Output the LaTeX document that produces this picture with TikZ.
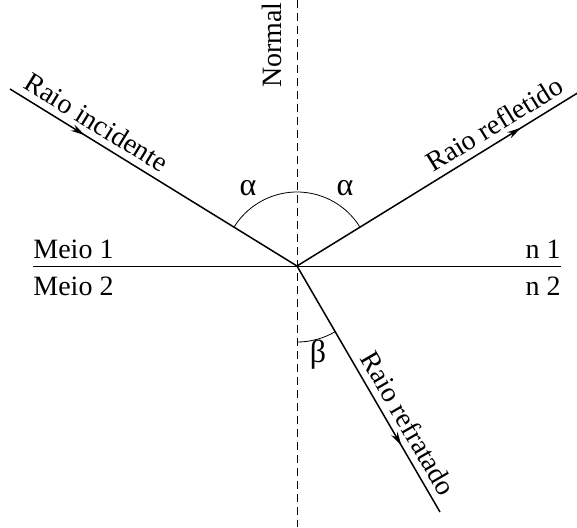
\documentclass[tikz,border=0pt]{standalone}
\usepackage{fontspec}
\setmainfont{Liberation Serif}
\usetikzlibrary{arrows.meta, decorations.markings}

\begin{document}
\begin{tikzpicture}[x=0.5pt, y=0.5pt, font=\fontsize{14}{17}\selectfont,
  ray/.style={line width=0.75pt},
  midarrow/.style={postaction={decorate}, decoration={markings,
    mark=at position #1 with {\arrow{Stealth[length=7pt, width=3.6pt]}}}},
  angarc/.style={line width=0.4pt},
  anglbl/.style={font=\fontsize{16}{18}\selectfont}]
\useasboundingbox (-297,-261) rectangle (280,266);

\coordinate (O) at (0,0);
\coordinate (top) at (0,266);
\coordinate (bot) at (0,-261);
\coordinate (left) at (-264,0);
\coordinate (right) at (264,0);
\coordinate (inc) at (-287,177);
\coordinate (refl) at (287,177);
\coordinate (refr) at (143,-246);

% normal and interface
\draw[dash pattern=on 4pt off 2.5pt, line width=0.5pt] (top) -- (bot);
\draw[line width=0.5pt] (left) -- (right);
\node[rotate=90] (normal) at (-25,221) {Normal};

% rays
\draw[ray, midarrow=0.26] (inc) -- node[pos=0.27, sloped, above] (lblinc) {Raio incidente} (O);
\draw[ray, midarrow=0.78] (O) -- node[pos=0.72, sloped, above] (lblrefl) {Raio refletido} (refl);
\draw[ray, midarrow=0.73] (O) -- node[pos=0.675, sloped, above] (lblrefr) {Raio refratado} (refr);

% angles
\draw[angarc] (O) ++(31.66:74) arc[start angle=31.66, end angle=148.34, radius=74];
\draw[angarc] (O) ++(-90:76) arc[start angle=-90, end angle=-59.83, radius=76];
\node[anglbl] (alfa1) at (-49,78) {α};
\node[anglbl] (alfa2) at (48,78) {α};
\node[anglbl] (beta) at (21,-89) {β};

% media
\node[anchor=base west, inner sep=0pt] (meio1) at (-264,8) {Meio 1};
\node[anchor=base west, inner sep=0pt] (meio2) at (-264,-29) {Meio 2};
\node[anchor=base east, inner sep=0pt] (n1) at (264,8) {n 1};
\node[anchor=base east, inner sep=0pt] (n2) at (264,-29) {n 2};
\end{tikzpicture}
\end{document}
